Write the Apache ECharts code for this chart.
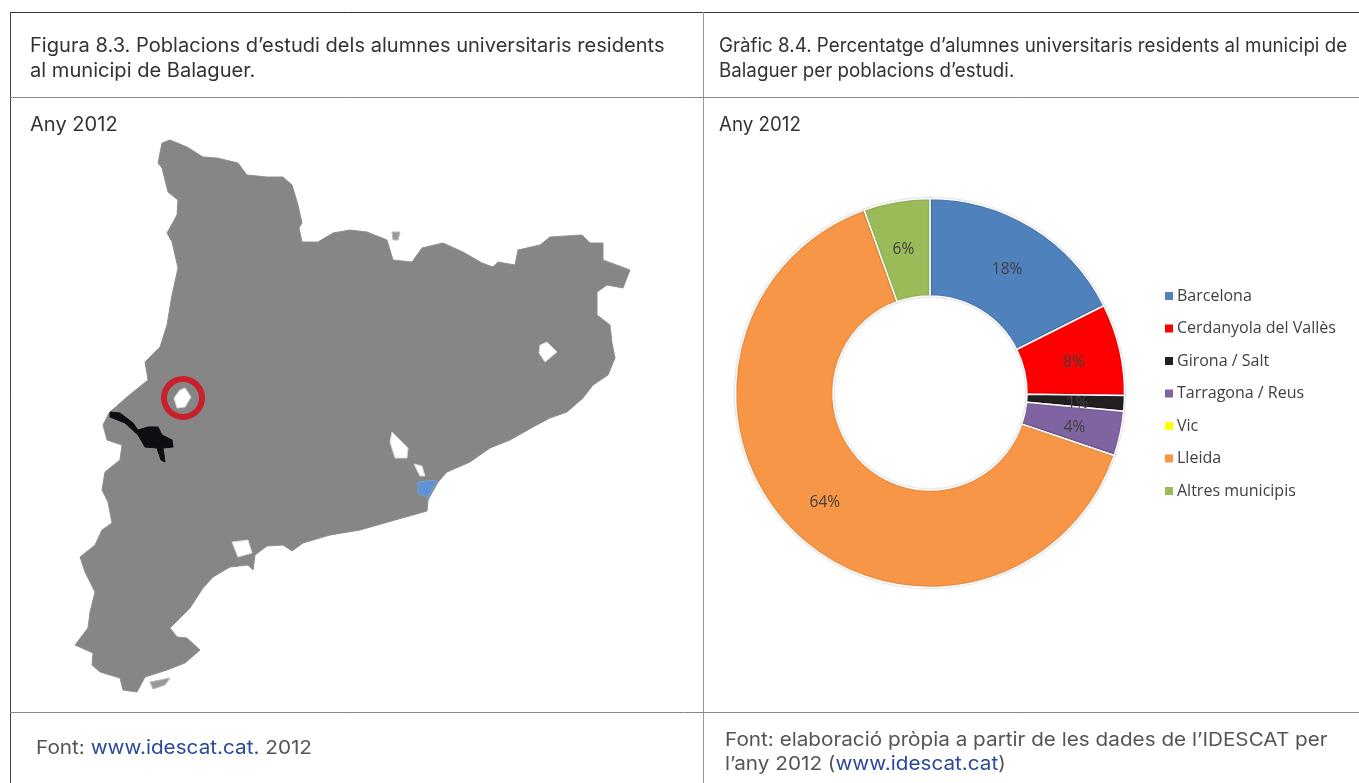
<!DOCTYPE html>
<html><head><meta charset="utf-8">
<style>html,body{margin:0;padding:0;background:#fff}#c{width:1359px;height:783px}</style>
<script src="https://cdn.jsdelivr.net/npm/echarts@6/dist/echarts.min.js"></script>
</head><body><div id="c"></div>
<script>
const categories=['Barcelona','Cerdanyola del Vallès','Girona / Salt','Tarragona / Reus','Vic','Lleida','Altres municipis'];
const shares=[17.6,7.6,1.3,3.7,0,64.3,5.5];
const sliceColors=['#4F81BD','#FF0000','#231F20','#8064A2','#FFFF00','#F79646','#9BBB59'];

const outline=[[162,143],[170,140],[187,147],[203,157],[217,158],[238,163],[247,175],[267,177],[283,177],[292,185],[298,205],[302,223],[299,228],[302,242],[318,242],[333,233],[350,230],[367,232],[387,240],[393,260],[412,262],[422,248],[443,243],[463,252],[482,263],[493,267],[498,262],[515,265],[518,250],[540,245],[550,237],[582,235],[590,243],[603,243],[603,260],[630,270],[623,288],[607,285],[597,292],[597,315],[610,325],[612,343],[615,358],[608,375],[593,385],[583,398],[567,412],[550,418],[533,427],[510,440],[490,448],[470,462],[447,472],[438,482],[428,500],[427,511],[395,520],[360,530],[330,535],[303,543],[292,551],[283,545],[267,546],[255,555],[253,570],[248,565],[230,567],[213,577],[203,588],[190,608],[170,628],[177,637],[187,638],[200,650],[185,663],[167,670],[145,677],[137,692],[123,690],[120,678],[100,672],[92,665],[93,653],[75,645],[88,628],[90,612],[95,592],[85,572],[80,557],[95,545],[102,530],[112,523],[108,502],[102,490],[105,472],[120,460],[122,445],[107,440],[103,425],[108,415],[110,412],[127,397],[148,380],[145,362],[160,347],[167,325],[172,295],[178,268],[172,242],[167,233],[177,215],[178,200],[168,192],[162,168],[158,163],[162,143]];
const gapBalaguer=[[185,388],[191,397],[185,407],[177,408],[174,398],[180,390],[185,388]];
const gapGirona=[[547,342],[557,352],[545,362],[539,353],[540,345],[547,342]];
const gapManresa=[[392,432],[397,437],[408,448],[407,458],[395,458],[390,442],[392,432]];
const gapLlobregat=[[414,464],[422,466],[425,476],[420,476],[414,464]];
const gapTortosa=[[232,542],[248,540],[252,553],[238,557],[232,542]];
const lleida=[[110,412],[120,413],[133,423],[138,430],[148,427],[158,427],[162,435],[172,440],[173,447],[163,448],[165,462],[161,460],[157,448],[145,447],[138,435],[125,423],[110,417],[110,412]];
const barcelona=[[418,482],[437,480],[428,498],[418,493],[418,482]];
const isletSouth=[[150,682],[170,678],[165,685],[153,689],[150,682]];
const isletNorth=[[392,232],[400,232],[398,240],[393,240],[392,232]];
const balaguer=[[183,398]];

const poly=(name,ring)=>({type:'Feature',properties:{name},geometry:{type:'Polygon',coordinates:[ring]}});
echarts.registerMap('catalunya',{type:'FeatureCollection',features:[
 poly('Catalunya',outline),poly('g1',gapBalaguer),poly('g2',gapGirona),poly('g3',gapManresa),poly('g4',gapLlobregat),poly('g5',gapTortosa),
 poly('Segrià',lleida),poly('Barcelona',barcelona),poly('i1',isletSouth),poly('i2',isletNorth)
]});
const gapStyle={itemStyle:{areaColor:'#fff',borderColor:'#d8d8d8',borderWidth:1}};

const ink='#333', grey='#555', link='#2B4A9B', sans='Inter, sans-serif';
const rule=(x1,y1,x2,y2,c,w)=>({type:'line',silent:true,shape:{x1,y1,x2,y2},style:{stroke:c,lineWidth:w}});
const text=(x,y,t,size,lh,color,sx)=>({type:'text',silent:true,x,y,scaleX:sx,style:{text:t,font:`${size}px ${sans}`,fill:color,lineHeight:lh,
  rich:{a:{fill:link,font:`${size}px ${sans}`,lineHeight:lh}}}});

const chart=echarts.init(document.getElementById('c'),null,{renderer:'canvas'});
chart.setOption({
 animation:false,backgroundColor:'#fff',
 graphic:[
  rule(10.5,12.5,1359,12.5,'#333',1),rule(10.5,12,10.5,783,'#444',1),
  rule(703.5,12,703.5,783,'#999',1),rule(10,97.5,1359,97.5,'#888',1),rule(10,712.5,1359,712.5,'#888',1),
  text(30,33.5,'Figura 8.3. Poblacions d’estudi dels alumnes universitaris residents\nal municipi de Balaguer.',19.5,25,ink,1.03),
  text(719,33.5,'Gràfic 8.4. Percentatge d’alumnes universitaris residents al municipi de\nBalaguer per poblacions d’estudi.',19.5,25,ink,0.962),
  text(30,112.5,'Any 2012',19.5,25,ink,1.03),
  text(719,112.5,'Any 2012',19.5,25,ink,0.962),
  text(36,736,'Font: {a|www.idescat.cat.} 2012',19,24,grey,1.09),
  text(725,728.5,'Font: elaboració pròpia a partir de les dades de l’IDESCAT per\nl’any 2012 ({a|www.idescat.cat})',19,24,grey,1.09)
 ],
 geo:{map:'catalunya',projection:{project:p=>p,unproject:p=>p},left:75,top:140,width:555,height:552,roam:false,silent:true,
  label:{show:false},
  itemStyle:{areaColor:'#868686',borderColor:'#8f8f8f',borderWidth:1},
  emphasis:{disabled:true},
  regions:[
   {name:'g1',...gapStyle},{name:'g2',...gapStyle},{name:'g3',...gapStyle},{name:'g4',...gapStyle},{name:'g5',...gapStyle},
   {name:'Segrià',itemStyle:{areaColor:'#0d0d12',borderColor:'#0d0d12'}},
   {name:'Barcelona',itemStyle:{areaColor:'#5f93d6',borderColor:'#79a0d0'}},
   {name:'i1',itemStyle:{areaColor:'#999',borderColor:'#bbb'}},
   {name:'i2',itemStyle:{areaColor:'#999',borderColor:'#bbb'}}
  ]},
 legend:{orient:'vertical',left:1160,top:282,itemWidth:8,itemHeight:8,itemGap:14.5,icon:'rect',data:categories,
  selectedMode:false,itemStyle:{borderWidth:0,shadowBlur:0},
  textStyle:{color:'#404040',fontFamily:'"Open Sans", sans-serif',fontSize:16,padding:[0,0,0,-1],lineHeight:18}},
 series:[
  {type:'pie',name:'Percentatge',center:[930,393],radius:[97,194.5],startAngle:90,
   data:categories.map((name,i)=>({name,value:shares[i],itemStyle:{color:sliceColors[i]},label:{show:shares[i]>0}})),
   itemStyle:{borderColor:'#fff',borderWidth:1.5,shadowBlur:2,shadowColor:'rgba(0,0,0,0.25)'},
   label:{position:'inside',offset:[-1,3],formatter:p=>Math.round(p.value)+'%',color:'#404040',fontFamily:'"Open Sans", sans-serif',fontSize:15.5},
   labelLine:{show:false},emphasis:{disabled:true},silent:true},
  {type:'scatter',coordinateSystem:'geo',geoIndex:0,data:balaguer,symbol:'circle',symbolSize:38,silent:true,z:5,
   itemStyle:{color:'rgba(0,0,0,0)',borderColor:'#C9202E',borderWidth:6,opacity:1}}
 ]
});
</script></body></html>
